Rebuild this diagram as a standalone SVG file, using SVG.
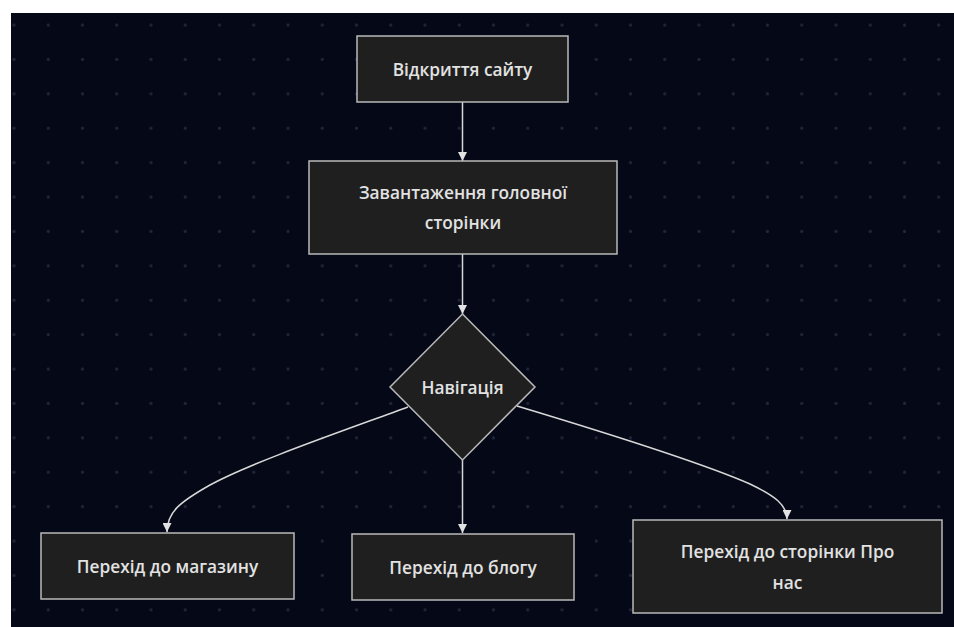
<svg xmlns="http://www.w3.org/2000/svg" width="954" height="627" viewBox="0 0 954 627">
  <defs>
    <pattern id="dots" patternUnits="userSpaceOnUse" x="-3.1" y="7.9" width="34.25" height="34.4">
      <circle cx="17.1" cy="17.1" r="1.5" fill="#23263a"/>
    </pattern>
    <marker id="arrow" viewBox="0 0 10 10" refX="10" refY="5" markerWidth="9" markerHeight="9" markerUnits="userSpaceOnUse" orient="auto">
      <path d="M0,0 L10,5 L0,10 Z" fill="#e2e2e2"/>
    </marker>
  </defs>
  <style>
    .node { fill: #1f1f1f; stroke: #b9b9b9; stroke-width: 1.5; }
    .label { fill: #e2e2e2; font-family: "Open Sans", "Noto Sans", sans-serif; font-size: 17.3px; font-weight: 600; text-anchor: middle; dominant-baseline: central; }
    .edge { fill: none; stroke: #d8d8d8; stroke-width: 1.5; marker-end: url(#arrow); }
  </style>
  <rect x="0" y="0" width="954" height="627" fill="#ffffff"/>
  <rect x="11" y="13" width="943" height="614" fill="#050816"/>
  <rect x="11" y="13" width="943" height="614" fill="url(#dots)"/>

  <g id="connectors">
    <path class="edge" d="M462.5,102 L462.5,161"/>
    <path class="edge" d="M462.5,254 L462.5,314"/>
    <path class="edge" d="M462.5,460 L462.5,533"/>
    <path class="edge" d="M408,407 C340,432 250,463 210,485 C180,502 167,512 167,532"/>
    <path class="edge" d="M517,406 C600,431 700,462 750,484 C775,496 787,505 787,519"/>
  </g>

  <g id="n1">
    <rect class="node" x="357" y="36" width="211" height="66"/>
    <text class="label" x="462.5" y="69">Відкриття сайту</text>
  </g>
  <g id="n2">
    <rect class="node" x="309" y="161" width="308" height="93"/>
    <text class="label" x="463" y="192">Завантаження головної</text>
    <text class="label" x="463" y="222">сторінки</text>
  </g>
  <g id="n3">
    <polygon class="node" points="462.5,314 535,387 462.5,460 390,387"/>
    <text class="label" x="462.5" y="387">Навігація</text>
  </g>
  <g id="n4">
    <rect class="node" x="41" y="533" width="253" height="66"/>
    <text class="label" x="167.5" y="566">Перехід до магазину</text>
  </g>
  <g id="n5">
    <rect class="node" x="352" y="534" width="222" height="66"/>
    <text class="label" x="463" y="567">Перехід до блогу</text>
  </g>
  <g id="n6">
    <rect class="node" x="633" y="520" width="309" height="93"/>
    <text class="label" x="787.5" y="551">Перехід до сторінки Про</text>
    <text class="label" x="787.5" y="582">нас</text>
  </g>
</svg>
